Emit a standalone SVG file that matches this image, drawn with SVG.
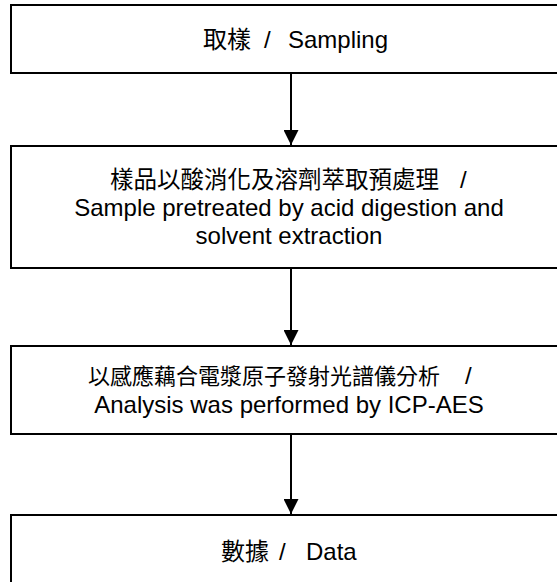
<svg xmlns="http://www.w3.org/2000/svg" width="557" height="582" viewBox="0 0 557 582">
<defs>
<style>
.box{fill:#fff;stroke:#000;stroke-width:2}
.t{font-family:"Liberation Sans","Noto Sans CJK TC",Arial,sans-serif;font-size:24px;fill:#000;text-anchor:middle}
.s{text-anchor:start}
.cjk{font-family:"Noto Sans CJK TC","Liberation Sans",sans-serif}
.conn{stroke:#000;stroke-width:2;fill:none}
</style>
<marker id="ah" viewBox="0 0 10 10" refX="10" refY="5" markerWidth="7.5" markerHeight="7.5" markerUnits="strokeWidth" orient="auto">
<path d="M0,0 L10,5 L0,10 Z" fill="#000"/>
</marker>
</defs>
<rect width="557" height="582" fill="#fff"/>
<g id="connectors">
<line class="conn" x1="291" y1="73" x2="291" y2="145" marker-end="url(#ah)"/>
<line class="conn" x1="291" y1="268" x2="291" y2="345" marker-end="url(#ah)"/>
<line class="conn" x1="291" y1="434" x2="291" y2="514" marker-end="url(#ah)"/>
</g>
<g id="node-sampling">
<rect class="box" x="11" y="5" width="580" height="68"/>
<text class="t s" y="48"><tspan class="cjk" x="203">取樣</tspan><tspan x="264">/</tspan><tspan x="288">Sampling</tspan></text>
</g>
<g id="node-pretreat">
<rect class="box" x="11" y="146" width="580" height="122"/>
<text class="t s" y="188"><tspan class="cjk" x="110" style="font-size:23.5px">樣品以酸消化及溶劑萃取預處理</tspan><tspan x="460">/</tspan></text>
<text class="t" x="289" y="216">Sample pretreated by acid digestion and</text>
<text class="t" x="289" y="244">solvent extraction</text>
</g>
<g id="node-analysis">
<rect class="box" x="11" y="346" width="580" height="88"/>
<text class="t s" y="384"><tspan class="cjk" x="88" style="font-size:22px">以感應藕合電漿原子發射光譜儀分析</tspan><tspan x="465">/</tspan></text>
<text class="t" x="289" y="413">Analysis was performed by ICP-AES</text>
</g>
<g id="node-data">
<rect class="box" x="11" y="515" width="580" height="100"/>
<text class="t s" y="560"><tspan class="cjk" x="221">數據</tspan><tspan x="279">/</tspan><tspan x="306">Data</tspan></text>
</g>
</svg>
